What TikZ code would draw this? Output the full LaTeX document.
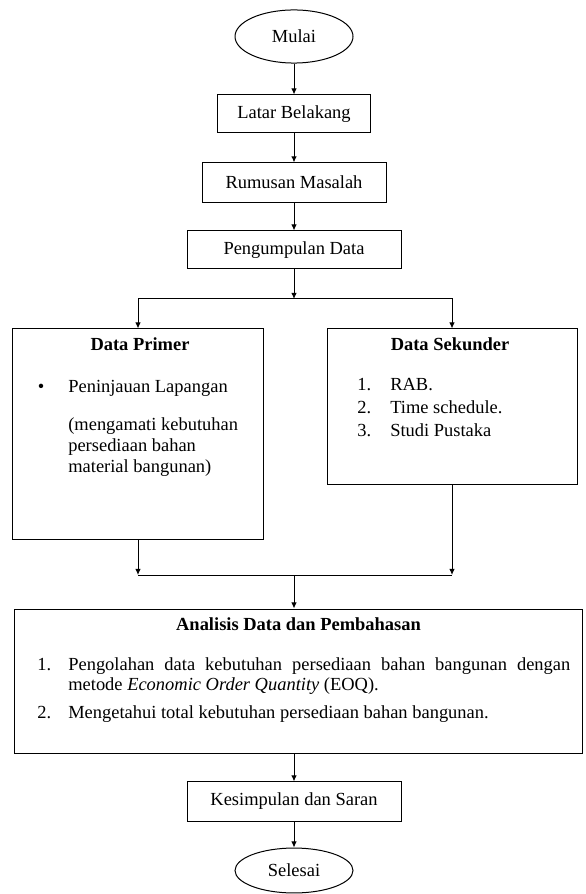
\documentclass[tikz,border=0pt]{standalone}
\usepackage{fontspec}
\setmainfont{Liberation Serif}
\usetikzlibrary{shapes.geometric,arrows.meta}
\begin{document}
\begin{tikzpicture}[x=0.65pt,y=-0.65pt,
  font=\fontsize{12pt}{13.4pt}\selectfont,
  box/.style={draw,line width=0.65pt,inner sep=0pt},
  term/.style={draw,ellipse,line width=0.65pt,inner sep=0pt},
  arr/.style={line width=0.65pt,-{Latex[length=4pt,width=3.6pt]}},
  txt/.style={anchor=base west,inner sep=0pt}]
\useasboundingbox (0,0) rectangle (585,894);
% alur utama
\node[term,minimum width=76.7pt,minimum height=34.5pt] (mulai) at (294,36.5) {Mulai};
\node[box,minimum width=99.5pt,minimum height=24.7pt] (latar) at (294,114) {Latar Belakang};
\node[box,minimum width=119.6pt,minimum height=25.4pt] (rumusan) at (294,182.5) {Rumusan Masalah};
\node[box,minimum width=139.1pt,minimum height=24.7pt] (kumpul) at (294,250) {Pengumpulan Data};
\draw[arr] (mulai) -- (latar);
\draw[arr] (latar) -- (rumusan);
\draw[arr] (rumusan) -- (kumpul);
% data primer
\node[box,minimum width=162.5pt,minimum height=136.5pt] (prim) at (138,434) {};
\node[anchor=base,inner sep=0pt] (primJudul) at (140,350) {\textbf{Data Primer}};
\node[txt] (primTitik) at (37.5,392) {\textbullet};
\node[txt] (primA) at (68,392) {Peninjauan Lapangan};
\node[txt] (primB) at (68,430) {(mengamati kebutuhan};
\node[txt] (primC) at (68,451) {persediaan bahan};
\node[txt] (primD) at (68,472) {material bangunan)};
% data sekunder
\node[box,minimum width=162.5pt,minimum height=100.75pt] (sek) at (452,406.5) {};
\node[anchor=base,inner sep=0pt] (sekJudul) at (450,350) {\textbf{Data Sekunder}};
\node[txt] (sekN1) at (357,390) {1.};
\node[txt] (sekA) at (390,390) {RAB.};
\node[txt] (sekN2) at (357,413) {2.};
\node[txt] (sekB) at (390,413) {Time schedule.};
\node[txt] (sekN3) at (357,436) {3.};
\node[txt] (sekC) at (390,436) {Studi Pustaka};
\coordinate (bagi) at (294,299);
\draw[arr] (kumpul) -- (bagi);
\draw[arr] (bagi) -| (prim);
\draw[arr] (bagi) -| (sek);
% gabung
\coordinate (gabung) at (294,575);
\coordinate (gabungKiri) at (prim.south |- gabung);
\coordinate (gabungKanan) at (sek.south |- gabung);
\draw[arr] (prim) -- (gabungKiri);
\draw[arr] (sek) -- (gabungKanan);
\draw[line width=0.65pt] (gabungKiri) -- (gabungKanan);
% analisis
\node[box,minimum width=368.6pt,minimum height=93.6pt] (analisis) at (298.5,681) {};
\node[anchor=base,inner sep=0pt] (anaJudul) at (298.5,630) {\textbf{Analisis Data dan Pembahasan}};
\node[txt] (anaN1) at (37,670) {1.};
\node[txt,text width=326.3pt,align=justify] (anaA) at (68,670)
  {Pengolahan data kebutuhan persediaan bahan bangunan dengan metode \textit{Economic Order Quantity} (EOQ).};
\node[txt] (anaN2) at (37,718) {2.};
\node[txt] (anaB) at (68,718) {Mengetahui total kebutuhan persediaan bahan bangunan.};
\draw[arr] (gabung) -- (gabung |- analisis.north);
% akhir
\node[box,minimum width=139.1pt,minimum height=25.4pt] (simpul) at (294,801.5) {Kesimpulan dan Saran};
\node[term,minimum width=76.7pt,minimum height=29.2pt] (selesai) at (294,870.5) {Selesai};
\draw[arr] (simpul.north |- analisis.south) -- (simpul);
\draw[arr] (simpul) -- (selesai);
\end{tikzpicture}
\end{document}
